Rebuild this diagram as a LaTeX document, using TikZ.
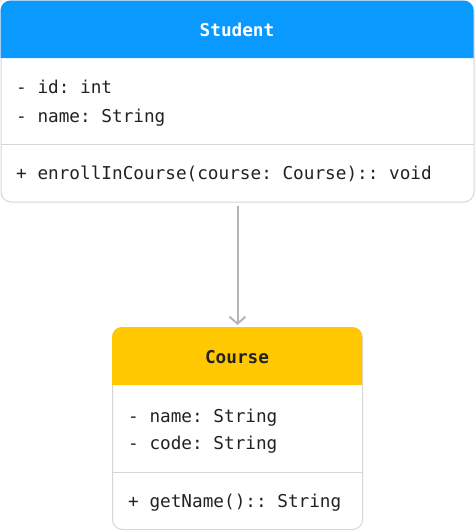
\documentclass[tikz,border=0pt]{standalone}
\usepackage{fontspec}
\setmonofont{DejaVu Sans Mono}
\usetikzlibrary{positioning, arrows.meta}
\usepackage{xcolor}
\definecolor{headblue}{HTML}{0A99FF}
\definecolor{headyellow}{HTML}{FFC800}
\definecolor{boxline}{HTML}{D6D6DA}
\definecolor{linkgray}{HTML}{B4B4BC}
\definecolor{inktext}{HTML}{222222}

\begin{document}
\begin{tikzpicture}[x=1pt, y=-1pt,
  every node/.style={font=\ttfamily\fontsize{17.7}{20}\selectfont, text=inktext, inner sep=0pt},
  classbox/.style={draw=boxline, line width=1pt, rounded corners=10pt, fill=white, anchor=north west},
  member/.style={anchor=base west},
  title/.style={anchor=base, font=\ttfamily\bfseries\fontsize{17.7}{20}\selectfont},
  link/.style={draw=linkgray, line width=2pt, -{Straight Barb[length=7pt,width=16pt]}, shorten <=3pt, shorten >=2pt}]

\useasboundingbox (0,0) rectangle (474,530);

% ---- Student class ----
\node[classbox, minimum width=473pt, minimum height=201pt] (student) at (0.5,0.5) {};
\fill[headblue] (0.5,58) {[rounded corners=10pt] -- (0.5,0.5) -- (473.5,0.5)} -- (473.5,58) -- cycle;
\node[title, text=white] (studentname) at (237,36) {Student};
\node[member] (sid) at (16,93) {- id: int};
\node[member] (sname) at (16,122) {- name: String};
\draw[boxline, line width=1pt] (0.5,144) -- (473.5,144);
\node[member] (senroll) at (16,179) {+ enrollInCourse(course: Course):: void};

% ---- Course class ----
\node[classbox, minimum width=250pt, minimum height=202pt] (course) at (112,327) {};
\fill[headyellow] (112,385) {[rounded corners=10pt] -- (112,327) -- (362,327)} -- (362,385) -- cycle;
\node[title] (coursename) at (237,363) {Course};
\node[member] (cname) at (128,422) {- name: String};
\node[member] (ccode) at (128,449) {- code: String};
\draw[boxline, line width=1pt] (112,472) -- (362,472);
\node[member] (cgetname) at (128,507) {+ getName():: String};

% ---- association ----
\draw[link] (student.south) -- (course.north);
\end{tikzpicture}
\end{document}
